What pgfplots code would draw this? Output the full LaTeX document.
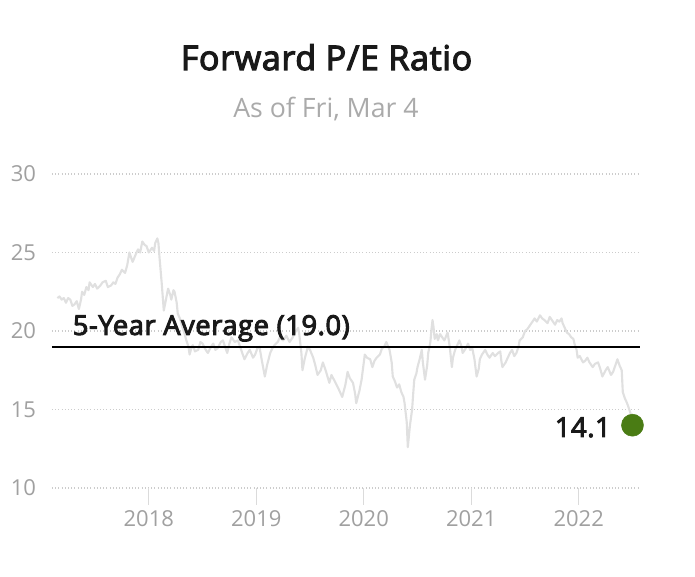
\documentclass[border=0pt]{standalone}
\usepackage{pgfplots}
\pgfplotsset{compat=1.18}
\usepackage{pgfplotstable}
\usepackage{fontspec}
\setmainfont{Open Sans}
\newfontfamily\semib{Open Sans}[FakeBold=3.5, LetterSpace=2]
\definecolor{linegray}{HTML}{E0E0E0}
\definecolor{gridgray}{HTML}{CCCCCC}
\definecolor{ticklab}{HTML}{A0A0A0}
\definecolor{subgray}{HTML}{AAAAAA}
\definecolor{dotgreen}{HTML}{4A7C14}

\pgfplotstableread{
year pe
2017.15 22.1
2017.17 22.2
2017.19 22.0
2017.21 22.1
2017.23 21.8
2017.25 22.1
2017.27 22.0
2017.29 21.6
2017.31 21.7
2017.33 21.9
2017.35 21.4
2017.37 22.0
2017.38 22.5
2017.40 22.3
2017.42 22.8
2017.44 22.6
2017.45 23.1
2017.48 22.8
2017.50 23.0
2017.52 22.7
2017.55 22.9
2017.57 23.1
2017.60 23.2
2017.62 22.8
2017.65 22.9
2017.67 23.1
2017.69 23.0
2017.71 23.4
2017.73 23.6
2017.75 23.9
2017.78 23.7
2017.80 24.2
2017.82 25.0
2017.84 24.6
2017.85 24.4
2017.88 24.9
2017.90 25.2
2017.92 25.0
2017.94 25.7
2017.96 25.5
2017.98 25.4
2018.00 25.0
2018.03 25.3
2018.05 25.1
2018.06 25.6
2018.08 25.9
2018.09 25.6
2018.10 24.7
2018.12 23.1
2018.14 21.3
2018.16 22.0
2018.18 22.7
2018.20 22.3
2018.21 22.0
2018.23 22.6
2018.24 22.5
2018.26 21.8
2018.27 21.1
2018.29 20.8
2018.31 20.3
2018.33 19.9
2018.35 19.4
2018.37 19.0
2018.38 18.5
2018.40 19.0
2018.41 19.1
2018.43 18.7
2018.46 18.8
2018.48 19.3
2018.50 19.2
2018.53 18.8
2018.55 18.6
2018.58 19.0
2018.60 19.2
2018.62 18.8
2018.64 18.9
2018.67 19.3
2018.69 19.4
2018.71 19.0
2018.73 18.6
2018.75 19.2
2018.77 19.6
2018.80 19.3
2018.83 19.4
2018.85 19.0
2018.87 18.6
2018.89 18.2
2018.92 18.6
2018.94 18.8
2018.97 18.3
2018.99 18.5
2019.01 18.9
2019.03 19.0
2019.05 18.2
2019.08 17.1
2019.10 17.8
2019.13 18.6
2019.15 18.9
2019.17 19.1
2019.20 19.3
2019.22 19.6
2019.25 19.4
2019.28 19.7
2019.31 19.3
2019.34 19.6
2019.36 19.9
2019.39 20.2
2019.40 19.8
2019.42 18.6
2019.43 17.5
2019.45 18.2
2019.48 19.0
2019.50 18.8
2019.53 18.3
2019.55 17.8
2019.57 17.2
2019.60 17.5
2019.62 18.0
2019.65 17.4
2019.68 16.7
2019.70 17.2
2019.73 16.8
2019.76 16.4
2019.78 16.1
2019.80 15.8
2019.83 16.6
2019.85 17.4
2019.87 17.0
2019.90 16.7
2019.92 16.0
2019.93 15.4
2019.96 16.2
2019.98 16.9
2020.01 18.5
2020.03 18.3
2020.06 18.2
2020.08 17.7
2020.10 18.1
2020.12 18.3
2020.15 18.5
2020.17 18.9
2020.19 19.0
2020.21 19.3
2020.24 18.8
2020.26 18.0
2020.27 17.1
2020.29 16.8
2020.31 16.4
2020.33 16.6
2020.35 16.1
2020.37 15.8
2020.38 15.4
2020.40 14.2
2020.41 12.6
2020.43 14.0
2020.45 15.0
2020.46 16.0
2020.47 16.9
2020.49 17.3
2020.50 17.7
2020.52 18.2
2020.54 18.8
2020.55 18.0
2020.57 16.9
2020.59 17.8
2020.60 18.6
2020.62 19.3
2020.63 20.1
2020.64 20.7
2020.65 20.2
2020.66 19.5
2020.68 19.8
2020.69 19.4
2020.71 19.8
2020.73 19.6
2020.75 19.4
2020.78 19.9
2020.80 19.0
2020.82 17.7
2020.83 18.3
2020.85 18.8
2020.87 19.1
2020.89 19.4
2020.91 19.0
2020.92 18.6
2020.95 18.9
2020.97 19.2
2020.99 18.8
2021.01 18.9
2021.03 18.2
2021.05 17.1
2021.07 17.6
2021.08 18.2
2021.10 18.5
2021.13 18.8
2021.15 18.5
2021.17 18.3
2021.20 18.6
2021.22 18.4
2021.25 18.6
2021.27 18.7
2021.28 18.1
2021.29 17.7
2021.32 18.0
2021.34 18.3
2021.36 18.6
2021.38 18.8
2021.40 18.4
2021.42 18.6
2021.44 19.0
2021.45 19.4
2021.48 19.6
2021.50 20.0
2021.52 20.1
2021.54 20.3
2021.57 20.6
2021.59 20.8
2021.61 20.6
2021.64 21.0
2021.66 20.8
2021.68 20.7
2021.71 20.5
2021.73 20.9
2021.75 20.7
2021.78 20.4
2021.80 20.7
2021.82 20.6
2021.84 20.8
2021.85 20.5
2021.87 20.2
2021.89 19.9
2021.91 19.8
2021.93 19.6
2021.95 19.5
2021.96 19.2
2021.98 18.8
2021.99 18.3
2022.01 18.4
2022.04 18.0
2022.06 18.1
2022.08 18.3
2022.10 18.0
2022.13 17.7
2022.15 17.9
2022.18 18.0
2022.20 17.6
2022.22 17.1
2022.25 17.5
2022.27 17.7
2022.30 17.2
2022.32 17.4
2022.34 17.8
2022.36 18.2
2022.38 17.8
2022.40 17.5
2022.41 16.1
2022.43 15.7
2022.45 15.4
2022.47 15.0
2022.49 14.6
2022.51 14.1
}\petable

\begin{document}
\begin{tikzpicture}
\path[use as bounding box] (0pt,0pt) rectangle (521.25pt,432pt);
\node[anchor=base, font=\fontsize{25.5}{30}\selectfont\semib, text=black!90] at (244.9pt,379.5pt) {Forward P/E Ratio};
\node[font=\fontsize{20}{24}\selectfont, text=subgray] at (244.5pt,350pt) {As of Fri, Mar 4};
\begin{axis}[
  at={(39pt,66pt)}, anchor=south west,
  scale only axis, width=441pt, height=235.5pt,
  xmin=2017.10, xmax=2022.57, ymin=10, ymax=30,
  clip=false,
  axis line style={draw=none},
  ytick={10,15,20,25,30},
  xtick={2018,2019,2020,2021,2022},
  xticklabels={2018,2019,2020,2021,2022},
  xtick pos=bottom, ytick pos=left,
  tick align=outside,
  ytick style={draw=none},
  xtick style={draw=gridgray!70, line width=0.9pt},
  major tick length=12.5pt,
  ymajorgrids,
  grid style={gridgray, dotted, line width=0.9pt},
  /pgf/number format/assume math mode=true,
  ticklabel style={font=\fontsize{16.5}{19}\selectfont, text=ticklab},
  yticklabel style={anchor=east, xshift=4pt},
  xticklabel style={anchor=north, yshift=-1pt},
  every axis plot/.append style={line join=round},
]
\addplot[linegray, line width=1.6pt] table[x=year, y=pe] {\petable};
\addplot[black, line width=1.5pt] coordinates {(2017.10,19.0) (2022.57,19.0)};
\addplot[only marks, mark=*, mark size=8.25pt, dotgreen] coordinates {(2022.50,14.0)};
\node[anchor=base west, font=\fontsize{20.5}{24}\selectfont\semib, text=black!90] at (axis cs:2017.25,19.75) {5-Year Average (19.0)};
\node[anchor=base east, inner sep=0pt, font=\fontsize{20.5}{24}\selectfont\semib, text=black!90] at (axis cs:2022.30,13.25) {14.1};
\end{axis}
\end{tikzpicture}
\end{document}
